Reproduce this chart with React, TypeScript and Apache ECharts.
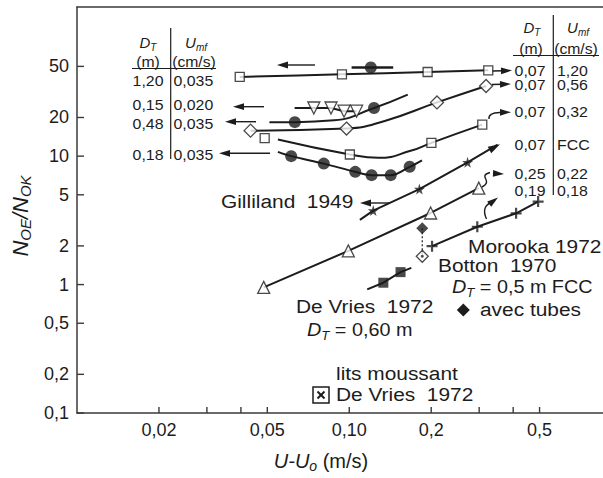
import React, { useEffect, useRef } from 'react';
import * as echarts from 'echarts';

const FF = '"Liberation Sans", Arial, Helvetica, sans-serif';
const ink = '#1c1c1c';
const axisInk = '#3a3a3a';

// axis ranges and ticks (log scales)
const xMin = 0.01;
const xMax = 0.855;
const yMin = 0.1;
const yMax = 145;
const xTickValues = [0.02, 0.03, 0.04, 0.05, 0.1, 0.2, 0.3, 0.4, 0.5];
const xLabelValues = [0.02, 0.05, 0.1, 0.2, 0.5];
const xLabelTexts = ['0,02', '0,05', '0,10', '0,2', '0,5'];
const yTickValues = [0.1, 0.2, 0.5, 1, 2, 5, 10, 20, 50];
const yLabelTexts = ['0,1', '0,2', '0,5', '1', '2', '5', '10', '20', '50'];

// D_T = 0,07 m, U_mf = 1,20 cm/s (open squares)
const sqTopX = [0.0396, 0.094, 0.194, 0.324];
const sqTopY = [41.4, 43.4, 45.2, 46.6];

// D_T = 1,20 m (filled circle with range bar)
const dotTopX = [0.12];
const dotTopY = [49];
const dotTopBarX = [0.102, 0.145];
const dotTopBarY = [49, 49];

// D_T = 0,15 m (open down triangles)
const triDownX = [0.0741, 0.0857, 0.0957, 0.1064];
const triDownY = [23.7, 23.7, 22.4, 22.4];
const triDownLineX = [0.063, 0.0741, 0.0857, 0.0957, 0.1064];
const triDownLineY = [23.7, 23.7, 23.7, 22.4, 22.4];

// D_T = 0,48 m (filled circles)
const dotMidX = [0.0631, 0.1233];
const dotMidY = [18.4, 23.7];
const dotMidCurveX = [0.0509, 0.0631, 0.088, 0.1233, 0.164];
const dotMidCurveY = [18.4, 18.4, 19.0, 23.7, 30.1];

// D_T = 0,07 m, U_mf = 0,56 (open diamonds)
const diaX = [0.0434, 0.0977, 0.21, 0.318];
const diaY = [15.8, 16.4, 26.2, 35.2];
const diaCurveX = [0.0434, 0.0977, 0.135, 0.21, 0.318];
const diaCurveY = [15.8, 16.4, 18.8, 26.2, 35.2];

// open squares (0,07 / 0,32 and FCC group)
const sqFccX = [0.0489, 0.1005, 0.2003, 0.308];
const sqFccY = [13.8, 10.3, 12.7, 17.6];
const sqFccCurveX = [0.0547, 0.1005, 0.128, 0.168, 0.2003, 0.308];
const sqFccCurveY = [13.5, 10.3, 9.7, 11.0, 12.7, 17.6];

// D_T = 0,18 m (filled circles, lower)
const dotLowX = [0.0612, 0.0806, 0.1052, 0.1208, 0.142, 0.1667];
const dotLowY = [10.0, 8.75, 7.55, 7.11, 7.11, 8.26];
const dotLowCurveX = [0.0547, 0.0612, 0.0806, 0.1052, 0.1208, 0.142, 0.1667, 0.185];
const dotLowCurveY = [10.8, 10.0, 8.75, 7.55, 7.11, 7.11, 8.26, 9.29];

// Gilliland 1949 (stars)
const starX = [0.1225, 0.181, 0.272];
const starY = [3.77, 5.54, 8.96];
const starLineX = [0.1094, 0.1225, 0.181, 0.272, 0.3506];
const starLineY = [3.19, 3.77, 5.54, 8.96, 12.3];

// D_T = 0,25 m (open up triangles)
const triUpX = [0.0485, 0.0992, 0.199, 0.299];
const triUpY = [0.951, 1.83, 3.61, 5.64];

// Morooka 1972 (crosses)
const crossX = [0.2014, 0.2953, 0.41, 0.494];
const crossY = [1.99, 2.82, 3.59, 4.43];

// Botton 1970 (with tubes / without)
const tubesX = [0.1854];
const tubesY = [2.75];
const bottonX = [0.1854];
const bottonY = [1.66];

// De Vries 1972 (filled squares)
const dvX = [0.1334, 0.1543];
const dvY = [1.034, 1.25];
const dvLineX = [0.1164, 0.1334, 0.1543, 0.169];
const dvLineY = [0.918, 1.034, 1.25, 1.35];

const L = (v: number) => Math.log10(v);
const P = (xs: number[], ys: number[]) => xs.map((x, i) => [L(x), L(ys[i])]);

const nearestLabel = (v: number, vals: number[], texts: string[]) => {
  let best = 0;
  let bd = Infinity;
  vals.forEach((t, i) => {
    const d = Math.abs(L(t) - v);
    if (d < bd) { bd = d; best = i; }
  });
  return texts[best];
};

const STAR = 'path://M50,0 L61,35 L98,35 L68,57 L79,91 L50,70 L21,91 L32,57 L2,35 L39,35 Z';
const PLUS = 'path://M40,0 H60 V40 H100 V60 H60 V100 H40 V60 H0 V40 H40 Z';

function lineS(data: number[][], smooth: number | boolean = false, extra: any = {}) {
  return {
    type: 'line', data, symbol: 'none', smooth, silent: true, z: 2,
    lineStyle: { color: ink, width: 2 }, ...extra,
  };
}
function scat(data: number[][], symbol: string, size: number, filled: boolean, extra: any = {}) {
  return {
    type: 'scatter', data, symbol, symbolSize: size, silent: true, z: 4,
    itemStyle: filled ? { color: ink } : { color: '#ffffff', borderColor: ink, borderWidth: 1.3 },
    ...extra,
  };
}
// axis ticks drawn through the axis scales (inside ticks)
function tickSeries(vals: number[], axis: 'x' | 'y', len: number) {
  return {
    type: 'custom', coordinateSystem: 'cartesian2d', silent: true, z: 10, clip: false,
    data: vals.map((v) => (axis === 'x' ? [L(v), L(yMin)] : [L(xMin), L(v)])),
    renderItem: (_p: any, api: any) => {
      const p = api.coord([api.value(0), api.value(1)]);
      return {
        type: 'line',
        shape: axis === 'x'
          ? { x1: p[0], y1: p[1], x2: p[0], y2: p[1] - len }
          : { x1: p[0], y1: p[1], x2: p[0] + len, y2: p[1] },
        style: { stroke: axisInk, lineWidth: 1.4 },
      };
    },
  };
}

function head(tx: number, ty: number, dx: number, dy: number, len = 11, hw = 3.4) {
  const d = Math.hypot(dx, dy);
  const ux = dx / d, uy = dy / d;
  const bx = tx - ux * len, by = ty - uy * len;
  return {
    type: 'polygon', silent: true,
    shape: { points: [[tx, ty], [bx - uy * hw, by + ux * hw], [bx + uy * hw, by - ux * hw]] },
    style: { fill: ink },
  };
}
function arrow(x1: number, y1: number, x2: number, y2: number, w = 1.4) {
  const dx = x2 - x1, dy = y2 - y1;
  const d = Math.hypot(dx, dy);
  const ux = dx / d, uy = dy / d;
  return [
    { type: 'line', silent: true, shape: { x1, y1, x2: x2 - ux * 9, y2: y2 - uy * 9 }, style: { stroke: ink, lineWidth: w } },
    head(x2, y2, dx, dy),
  ];
}

const sub = (size: number) => ({ fontSize: size, fontStyle: 'italic', fontFamily: FF, fill: ink, verticalAlign: 'bottom', lineHeight: size + 2 });

function txt(text: string, x: number, y: number, size: number, align = 'left', scaleX = 1, rich?: any) {
  return {
    type: 'text', x, y, scaleX, silent: true,
    style: {
      text, fontSize: size, fontFamily: FF, fill: ink, align, verticalAlign: 'middle',
      ...(rich ? { rich } : {}),
    },
  };
}

const richDT = (size: number) => ({
  i: { fontSize: size, fontStyle: 'italic', fontFamily: FF, fill: ink, lineHeight: size + 6 },
  s: sub(Math.round(size * 0.68)),
  n: { fontSize: size, fontFamily: FF, fill: ink, lineHeight: size + 6 },
});

function buildGraphic() {
  const g: any[] = [];
  // left table
  g.push(txt('{i|D}{s|T}', 148, 42, 15, 'center', 1, richDT(15)));
  g.push(txt('{i|U}{s|mf}', 196, 42, 15, 'center', 1, richDT(15)));
  g.push(txt('(m)', 148, 62, 15, 'center', 1.05));
  g.push(txt('(cm/s)', 194, 62, 15, 'center', 1.05));
  g.push({ type: 'line', silent: true, shape: { x1: 132, y1: 68.5, x2: 216, y2: 68.5 }, style: { stroke: ink, lineWidth: 1.2 } });
  g.push({ type: 'line', silent: true, shape: { x1: 170.7, y1: 28, x2: 170.7, y2: 159 }, style: { stroke: ink, lineWidth: 1.2 } });
  const leftRows: [string, string, number][] = [['1,20', '0,035', 81], ['0,15', '0,020', 105], ['0,48', '0,035', 124], ['0,18', '0,035', 155]];
  leftRows.forEach(([a, b, y]) => {
    g.push(txt(a, 148, y, 15, 'center', 1.06));
    g.push(txt(b, 173.5, y, 15, 'left', 1.06));
  });
  // right table
  g.push(txt('{i|D}{s|T}', 532, 27, 15, 'center', 1, richDT(15)));
  g.push(txt('{i|U}{s|mf}', 578, 27, 15, 'center', 1, richDT(15)));
  g.push(txt('(m)', 531, 49, 15, 'center', 1.05));
  g.push(txt('(cm/s)', 576, 49, 15, 'center', 1.05));
  g.push({ type: 'line', silent: true, shape: { x1: 513, y1: 55.5, x2: 599, y2: 55.5 }, style: { stroke: ink, lineWidth: 1.2 } });
  g.push({ type: 'line', silent: true, shape: { x1: 553.3, y1: 15, x2: 553.3, y2: 195 }, style: { stroke: ink, lineWidth: 1.2 } });
  const rightRows: [string, string, number][] = [['0,07', '1,20', 70.5], ['0,07', '0,56', 85], ['0,07', '0,32', 112], ['0,07', 'FCC', 144.7], ['0,25', '0,22', 173.3], ['0,19', '0,18', 190.5]];
  rightRows.forEach(([a, b, y]) => {
    g.push(txt(a, 530, y, 15, 'center', 1.06));
    g.push(txt(b, 557, y, 15, 'left', 1.06));
  });

  // arrows pointing to the tables
  g.push(...arrow(315, 65, 277, 65));
  g.push(...arrow(264, 106.7, 233, 106.7));
  g.push(...arrow(256, 121.7, 225, 121.7));
  g.push(...arrow(270, 153.3, 219, 153.3));
  g.push(...arrow(492, 71, 512, 70.5));
  g.push(...arrow(492, 84.5, 511, 84));
  g.push(...arrow(390, 203, 360, 203));
  // hook to 0,32
  g.push({ type: 'bezierCurve', silent: true, shape: { x1: 489, y1: 119, cpx1: 488, cpy1: 113, x2: 500, y2: 112.5 }, style: { stroke: ink, lineWidth: 1.4, fill: 'none' } });
  g.push(head(511, 112.3, 1, 0));
  // star line arrow head
  g.push(head(500, 144.2, 137.7, -75.7, 12, 3.6));
  // wiggle to 0,25
  g.push({ type: 'bezierCurve', silent: true, shape: { x1: 482, y1: 187, cpx1: 494, cpy1: 181, cpx2: 477, cpy2: 176, x2: 490, y2: 172.5 }, style: { stroke: ink, lineWidth: 1.4, fill: 'none' } });
  g.push(head(504, 174, 1, 0.05));
  // hook to 0,19
  g.push({ type: 'bezierCurve', silent: true, shape: { x1: 486.5, y1: 219, cpx1: 481, cpy1: 207, x2: 491, y2: 202.5 }, style: { stroke: ink, lineWidth: 1.4, fill: 'none' } });
  g.push(head(498, 197.5, 8, -6));

  // labels
  const S = 1.16;
  g.push(txt('Gilliland  1949', 221, 202, 18, 'left', S));
  g.push(txt('Morooka 1972', 468, 246.5, 18, 'left', S));
  g.push(txt('Botton  1970', 438, 266, 18, 'left', S));
  g.push(txt('{i|D}{s|T}{n| = 0,5 m FCC}', 452, 287, 18, 'left', 1.1, richDT(18)));
  g.push({ type: 'polygon', silent: true, shape: { points: [[463.3, 303.5], [469.8, 310], [463.3, 316.5], [456.8, 310]] }, style: { fill: ink } });
  g.push(txt('avec tubes', 480, 310, 18, 'left', S));
  g.push(txt('De Vries  1972', 296, 306.7, 18, 'left', S));
  g.push(txt('{i|D}{s|T}{n| = 0,60 m}', 307, 330, 18, 'left', 1.1, richDT(18)));
  g.push(txt('lits moussant', 336, 373.3, 18, 'left', S));
  g.push(txt('De Vries  1972', 336, 394.5, 18, 'left', S));
  g.push({ type: 'rect', silent: true, shape: { x: 313, y: 387, width: 16, height: 16 }, style: { stroke: ink, lineWidth: 1.5, fill: '#fff' } });
  g.push({ type: 'line', silent: true, shape: { x1: 317.5, y1: 391.5, x2: 324.5, y2: 398.5 }, style: { stroke: ink, lineWidth: 2 } });
  g.push({ type: 'line', silent: true, shape: { x1: 324.5, y1: 391.5, x2: 317.5, y2: 398.5 }, style: { stroke: ink, lineWidth: 2 } });
  return g;
}

export default function App() {
  const ref = useRef<HTMLDivElement>(null);
  useEffect(() => {
    if (!ref.current) return;
    const chart = echarts.init(ref.current, undefined, { renderer: 'svg' });
    const axisLine = { show: true, onZero: false, lineStyle: { color: axisInk, width: 1.5 } };
    const option: any = {
      animation: false,
      backgroundColor: '#ffffff',
      textStyle: { fontFamily: FF },
      grid: { left: 77, right: 0, top: 7, bottom: 62, containLabel: false },
      xAxis: [
        {
          type: 'value', min: L(xMin), max: L(xMax), position: 'bottom',
          axisLine,
          axisTick: { show: false },
          axisLabel: {
            customValues: xLabelValues.map(L), margin: 8, fontSize: 18, color: ink, fontFamily: FF,
            formatter: (v: number) => nearestLabel(v, xLabelValues, xLabelTexts),
          },
          splitLine: { show: false },
          name: '{i|U-U}{s|o}{n| (m/s)}',
          nameLocation: 'middle', nameGap: 36,
          nameTextStyle: {
            padding: [0, 38, 0, 0],
            rich: {
              i: { fontSize: 20, fontStyle: 'italic', fontFamily: FF, color: ink, lineHeight: 24 },
              s: { fontSize: 14, fontStyle: 'italic', fontFamily: FF, color: ink, verticalAlign: 'bottom', lineHeight: 16 },
              n: { fontSize: 20, fontFamily: FF, color: ink, lineHeight: 24 },
            },
          },
        },
        {
          type: 'value', min: L(xMin), max: L(xMax), position: 'top',
          axisLine, axisTick: { show: false }, axisLabel: { show: false }, splitLine: { show: false },
        },
      ],
      yAxis: {
        type: 'value', min: L(yMin), max: L(yMax),
        axisLine,
        axisTick: { show: false },
        axisLabel: {
          customValues: yTickValues.map(L), margin: 8, fontSize: 18, color: ink, fontFamily: FF,
          formatter: (v: number) => nearestLabel(v, yTickValues, yLabelTexts),
        },
        splitLine: { show: false },
        name: '{i|N}{s|OE}{i|/N}{s|OK}',
        nameLocation: 'middle', nameGap: 42,
        nameTextStyle: {
          padding: [0, 12, 0, 0],
          rich: {
            i: { fontSize: 22, fontStyle: 'italic', fontFamily: FF, color: ink, lineHeight: 26 },
            s: { fontSize: 15, fontStyle: 'italic', fontFamily: FF, color: ink, verticalAlign: 'bottom', lineHeight: 17 },
          },
        },
      },
      series: [
        tickSeries(xTickValues, 'x', 6),
        tickSeries(yTickValues, 'y', 7),
        lineS(P(sqTopX, sqTopY), 0.3),
        scat(P(sqTopX, sqTopY), 'rect', 9, false),
        lineS(P(dotTopBarX, dotTopBarY), false, { lineStyle: { color: ink, width: 2.4 } }),
        scat(P(dotTopX, dotTopY), 'circle', 12, true),
        lineS(P(triDownLineX, triDownLineY), false),
        scat(P(triDownX, triDownY), 'triangle', 12, false, { symbolRotate: 180 }),
        lineS(P(dotMidCurveX, dotMidCurveY), 0.5),
        scat(P(dotMidX, dotMidY), 'circle', 12, true),
        lineS(P(diaCurveX, diaCurveY), 0.5),
        scat(P(diaX, diaY), 'diamond', 13, false),
        lineS(P(sqFccCurveX, sqFccCurveY), 0.5),
        scat(P(sqFccX, sqFccY), 'rect', 9, false),
        lineS(P(dotLowCurveX, dotLowCurveY), 0.35),
        scat(P(dotLowX, dotLowY), 'circle', 12, true),
        lineS(P(starLineX, starLineY), false),
        scat(P(starX, starY), STAR, 11, true),
        lineS(P(triUpX, triUpY), false),
        scat(P(triUpX, triUpY), 'triangle', 12, false),
        lineS(P(crossX, crossY), false),
        scat(P(crossX, crossY), PLUS, 11, true),
        lineS(P([tubesX[0], bottonX[0]], [tubesY[0], bottonY[0]]), false, { lineStyle: { color: ink, width: 1.2, type: [2, 2] } }),
        scat(P(tubesX, tubesY), 'diamond', 12, true),
        scat(P(bottonX, bottonY), 'diamond', 12, false),
        scat(P(bottonX, bottonY), 'circle', 3, true, { z: 5 }),
        lineS(P(dvLineX, dvLineY), false),
        scat(P(dvX, dvY), 'rect', 10, true),
      ],
      graphic: buildGraphic(),
    };
    chart.setOption(option);
    return () => chart.dispose();
  }, []);
  return <div ref={ref} style={{ position: 'fixed', left: 0, top: 0, width: 603, height: 478, background: '#fff' }} />;
}
